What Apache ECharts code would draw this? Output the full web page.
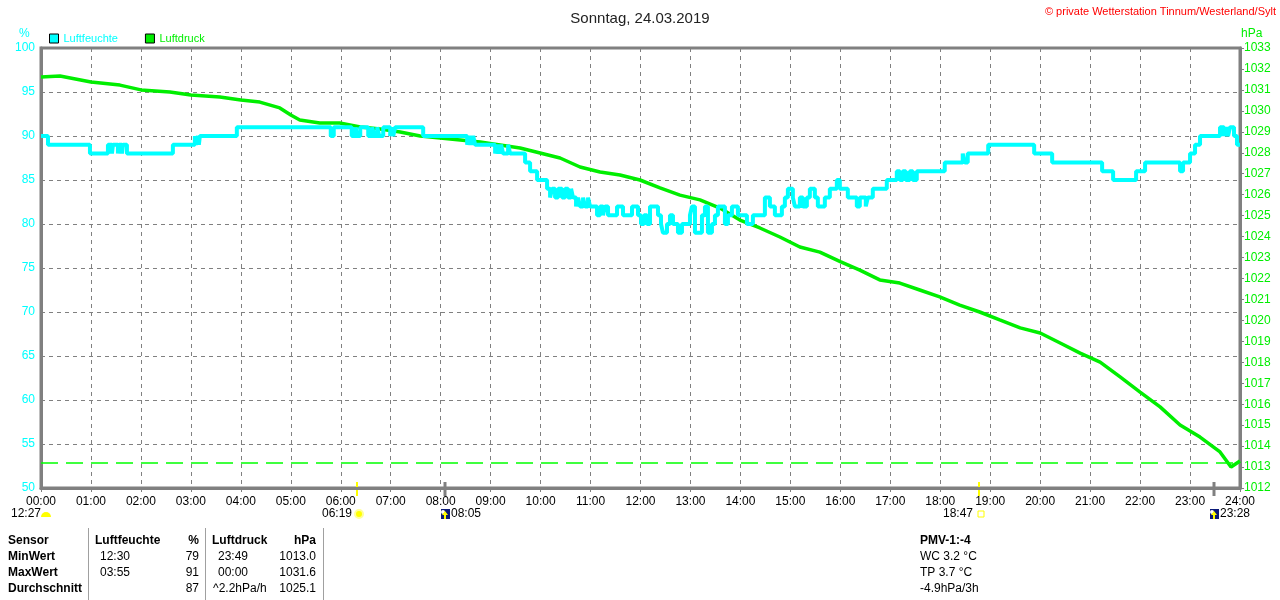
<!DOCTYPE html>
<html><head><meta charset="utf-8">
<script src="https://cdn.jsdelivr.net/npm/echarts@6/dist/echarts.min.js"></script>
<style>html,body{margin:0;padding:0;background:#fff}#c{width:1280px;height:600px}</style>
</head><body><div id="c"></div>
<script>
// ---- data ----
const titleText = 'Sonntag, 24.03.2019';
const copyrightText = '\u00A9 private Wetterstation Tinnum/Westerland/Sylt';
const hourLabels = ['00:00','01:00','02:00','03:00','04:00','05:00','06:00','07:00','08:00','09:00','10:00','11:00','12:00','13:00','14:00','15:00','16:00','17:00','18:00','19:00','20:00','21:00','22:00','23:00','24:00'];
const humTicks = [50,55,60,65,70,75,80,85,90,95,100];
const presTicks = [1012,1013,1014,1015,1016,1017,1018,1019,1020,1021,1022,1023,1024,1025,1026,1027,1028,1029,1030,1031,1032,1033];

// Luftfeuchte (%) – step changes: time in hours, value holds until next time
const humTimes = [0,0.14,0.98,1.34,1.42,1.44,1.54,1.56,1.62,1.64,1.72,2.64,3.08,3.10,3.14,3.16,3.18,3.92,
 5.80,5.86,6.22,6.30,6.32,6.39,6.55,6.63,6.67,6.73,6.77,6.85,6.99,7.03,7.05,7.09,7.65,
 8.53,8.57,8.61,8.65,8.69,9.09,9.13,9.17,9.21,9.25,9.35,9.39,9.69,9.79,9.93,
 10.13,10.19,10.23,10.29,10.35,10.43,10.49,10.55,10.61,10.65,10.71,10.75,10.79,10.85,10.89,10.95,10.99,
 11.13,11.19,11.25,11.29,11.35,11.53,11.65,11.83,11.95,12.01,12.07,12.13,12.19,12.35,12.41,12.45,12.53,
 12.59,12.65,12.75,12.83,12.99,13.03,13.09,13.23,13.29,13.35,13.43,13.49,13.55,13.69,13.75,13.83,13.95,
 14.13,14.25,14.49,14.59,14.69,14.83,14.89,14.95,15.05,15.09,15.19,15.25,15.33,15.39,15.49,15.55,15.69,
 15.79,15.93,15.99,16.15,16.33,16.39,16.51,16.55,16.65,16.93,17.13,17.19,17.25,17.31,17.39,17.45,17.53,
 18.09,18.45,18.49,18.55,18.96,19.88,20.24,21.24,21.46,21.92,22.10,22.80,22.86,23.00,23.10,23.20,
 23.60,23.68,23.72,23.76,23.80,23.88,23.94,24.0];
const humValues = [90,89,88,89,88,89,88,89,88,89,88,89,90,89,90,89,90,91,
 90,91,90,91,90,91,90,91,90,91,90,91,90,91,90,91,90,
 89,90,89,90,89,88,89,88,89,88,89,88,87,86,85,
 84,83,84,83,84,83,84,83,84,83,82,83,82,83,82,83,82,
 81,82,81,82,81,82,81,82,81,80,81,80,82,81,80,79,80,
 81,80,79,80,81,82,79,81,82,79,80,81,82,80,81,82,81,
 80,81,83,82,81,82,83,84,83,82,83,82,83,84,83,82,83,
 84,85,84,83,82,83,82,83,84,85,86,85,86,85,86,85,86,
 87,88,87,88,89,88,87,86,85,86,87,86,87,88,89,90,
 91,90,91,90,91,90,89,89];

// Luftdruck (hPa)
const presTimes = [0,0.38,1.0,1.58,2.0,2.58,3.0,3.58,4.0,4.38,4.78,5.0,5.18,5.58,5.98,6.39,6.79,7.19,7.59,7.99,
 8.39,8.79,9.19,9.59,9.99,10.39,10.79,11.19,11.59,11.99,12.39,12.79,13.19,13.59,13.99,14.39,14.79,15.19,15.59,
 16.01,16.39,16.79,17.19,17.59,17.99,18.39,18.79,19.19,19.6,20.0,20.4,20.8,21.2,21.6,22.0,22.4,22.8,23.2,23.6,23.82,24.0];
const presValues = [1031.62,1031.66,1031.38,1031.23,1031.0,1030.9,1030.76,1030.66,1030.52,1030.42,1030.14,1029.8,1029.56,1029.42,1029.42,1029.23,1029.13,1028.99,1028.8,1028.7,
 1028.61,1028.51,1028.37,1028.23,1027.99,1027.75,1027.32,1027.08,1026.94,1026.7,1026.32,1025.98,1025.75,1025.36,1024.79,1024.41,1023.98,1023.5,1023.26,
 1022.79,1022.4,1021.93,1021.78,1021.45,1021.12,1020.73,1020.4,1020.02,1019.64,1019.4,1018.92,1018.44,1018.01,1017.3,1016.58,1015.87,1015.01,1014.43,1013.72,1013.0,1013.29];
const presRefLine = 1013.2;

// sun / moon events (hours, label, kind)
const astroTimes = [0, 6.32, 8.08, 18.78, 23.47];
const astroLabels = ['12:27','06:19','08:05','18:47','23:28'];
const astroKinds = ['moonset','sunrise','moonrise','sunset','moonrise2'];

// statistics table
const tableRowLabels = ['Sensor','MinWert','MaxWert','Durchschnitt'];
const humColTimes = ['Luftfeuchte','12:30','03:55',''];
const humColValues = ['%','79','91','87'];
const presColTimes = ['Luftdruck','23:49','00:00','^2.2hPa/h'];
const presColValues = ['hPa','1013.0','1031.6','1025.1'];
const extraLines = ['PMV-1:-4','WC 3.2 \u00B0C','TP 3.7 \u00B0C','-4.9hPa/3h'];

// ---- chart ----
const FONT = 'Liberation Sans';
const CYAN = '#00FFFF', GREEN = '#00EE00', GRAY = '#808080';
const chart = echarts.init(document.getElementById('c'));
const humData = humTimes.map((t, i) => [t, humValues[i]]);
const presData = presTimes.map((t, i) => [t, presValues[i]]);

const option = {
  animation: false,
  backgroundColor: '#fff',
  title: { text: titleText, left: 'center', top: 6,
    textStyle: { fontFamily: FONT, fontSize: 15, fontWeight: 'normal', color: '#222' } },
  legend: {
    left: 49, top: 33, padding: 0, itemWidth: 9, itemHeight: 9, itemGap: 27, icon: 'rect',
    itemStyle: { borderColor: '#000', borderWidth: 1 },
    textStyle: { fontFamily: FONT, fontSize: 11 },
    data: [
      { name: 'Luftfeuchte', textStyle: { color: CYAN } },
      { name: 'Luftdruck', textStyle: { color: GREEN } }
    ]
  },
  grid: { left: 41, right: 40, top: 48, bottom: 112, show: true, borderColor: GRAY, borderWidth: 3 },
  xAxis: {
    type: 'value', min: 0, max: 24, interval: 1,
    axisLine: { show: true, lineStyle: { color: GRAY, width: 3 } },
    axisTick: { show: true, length: 4, lineStyle: { color: GRAY, width: 1 } },
    axisLabel: { color: '#000', fontFamily: FONT, fontSize: 12, margin: 8,
      formatter: v => hourLabels[Math.round(v)] },
    splitLine: { show: true, lineStyle: { color: GRAY, type: [4, 4], width: 1 } }
  },
  yAxis: [
    { type: 'value', min: humTicks[0], max: humTicks[humTicks.length - 1], interval: 5, position: 'left',
      axisLine: { show: true, lineStyle: { color: GRAY, width: 3 } },
      axisTick: { show: false },
      axisLabel: { color: CYAN, fontFamily: FONT, fontSize: 12, margin: 6, formatter: v => String(v) },
      splitLine: { show: true, lineStyle: { color: GRAY, type: [4, 4], width: 1 } } },
    { type: 'value', min: presTicks[0], max: presTicks[presTicks.length - 1], interval: 1, position: 'right',
      axisLine: { show: true, lineStyle: { color: GRAY, width: 3 } },
      axisTick: { show: true, length: 4, lineStyle: { color: GRAY, width: 1 } },
      axisLabel: { color: GREEN, fontFamily: FONT, fontSize: 12, margin: 4, formatter: v => String(v) },
      splitLine: { show: false } }
  ],
  series: [
    { name: 'Luftdruck', type: 'line', yAxisIndex: 1, data: presData, symbol: 'none',
      lineStyle: { color: GREEN, width: 3.5 }, itemStyle: { color: GREEN },
      markLine: { silent: true, symbol: 'none', label: { show: false },
        emphasis: { disabled: true },
        lineStyle: { color: '#00FF00', type: [17, 8], width: 1.6, opacity: 1 },
        data: [{ yAxis: presRefLine }] } },
    { name: 'Luftfeuchte', type: 'line', yAxisIndex: 0, data: humData, step: 'end', symbol: 'none',
      lineStyle: { color: CYAN, width: 4 }, itemStyle: { color: CYAN } }
  ]
};
chart.setOption(option);

// ---- annotations: units, copyright, sun/moon events, table ----
const g = [];
const txt = (x, y, s, o) => g.push(Object.assign({ type: 'text', x: x, y: y,
  style: Object.assign({ text: s, fontFamily: FONT, fontSize: 12, fill: '#000', textVerticalAlign: 'middle' }, o || {}) }));
txt(19, 34, '%', { fill: CYAN, fontSize: 12 });
txt(1241, 34, 'hPa', { fill: GREEN, fontSize: 12 });
txt(1276, 12, copyrightText, { fill: '#FF0000', fontSize: 11, textAlign: 'right' });

const yTop = chart.convertToPixel({ gridIndex: 0 }, [0, 50])[1];
astroTimes.forEach((t, i) => {
  const x = Math.round(chart.convertToPixel({ gridIndex: 0 }, [t, 50])[0]);
  const k = astroKinds[i];
  const ly = yTop + 26;
  if (k === 'sunrise' || k === 'sunset') {
    g.push({ type: 'line', shape: { x1: x, y1: yTop - 6, x2: x, y2: yTop + 8 }, style: { stroke: '#FFFF00', lineWidth: 2 } });
  } else if (k !== 'moonset') {
    g.push({ type: 'line', shape: { x1: x, y1: yTop - 6, x2: x, y2: yTop + 8 }, style: { stroke: GRAY, lineWidth: 3 } });
  }
  if (k === 'moonset') {
    g.push({ type: 'sector', shape: { cx: x + 5, cy: ly + 3, r: 5, startAngle: Math.PI, endAngle: 2 * Math.PI }, style: { fill: '#FFFF00' } });
    txt(x, ly, astroLabels[i], { textAlign: 'right' });
  } else if (k === 'sunrise') {
    g.push({ type: 'circle', shape: { cx: x + 2, cy: ly, r: 4 }, style: { fill: '#FFFF00', stroke: '#FFFF99', lineWidth: 2 } });
    txt(x - 5, ly, astroLabels[i], { textAlign: 'right' });
  } else if (k === 'sunset') {
    g.push({ type: 'rect', shape: { x: x - 1, y: ly - 3, width: 6, height: 6 }, style: { fill: 'none', stroke: '#FFFF00', lineWidth: 1 } });
    txt(x - 6, ly, astroLabels[i], { textAlign: 'right' });
  } else {
    g.push({ type: 'rect', shape: { x: x - 4, y: ly - 5, width: 9, height: 10 }, style: { fill: '#0A1A78' } });
    g.push({ type: 'circle', shape: { cx: x - 2, cy: ly - 2, r: 2 }, style: { fill: '#FFFFFF' } });
    g.push({ type: 'polygon', shape: { points: [[x, ly - 3], [x + 3, ly + 1], [x + 1, ly + 1], [x + 1, ly + 5], [x - 1, ly + 5], [x - 1, ly + 1], [x - 3, ly + 1]] }, style: { fill: '#FFFF00' } });
    txt(x + 6, ly, astroLabels[i]);
  }
});

// table
const rowY = [541, 557, 573, 589];
[88, 205, 323].forEach(x => g.push({ type: 'line', shape: { x1: x + 0.5, y1: 528, x2: x + 0.5, y2: 600 }, style: { stroke: '#A0A0A0', lineWidth: 1 } }));
rowY.forEach((y, r) => {
  const b = { fontWeight: 'bold' };
  txt(8, y, tableRowLabels[r], b);
  txt(r === 0 ? 95 : 100, y, humColTimes[r], r === 0 ? b : {});
  txt(199, y, humColValues[r], Object.assign({ textAlign: 'right' }, r === 0 ? b : {}));
  txt(r === 0 ? 212 : (r === 3 ? 213 : 218), y, presColTimes[r], r === 0 ? b : {});
  txt(316, y, presColValues[r], Object.assign({ textAlign: 'right' }, r === 0 ? b : {}));
  txt(920, y, extraLines[r], r === 0 ? b : {});
});

chart.setOption({ graphic: g });
</script>
</body></html>
